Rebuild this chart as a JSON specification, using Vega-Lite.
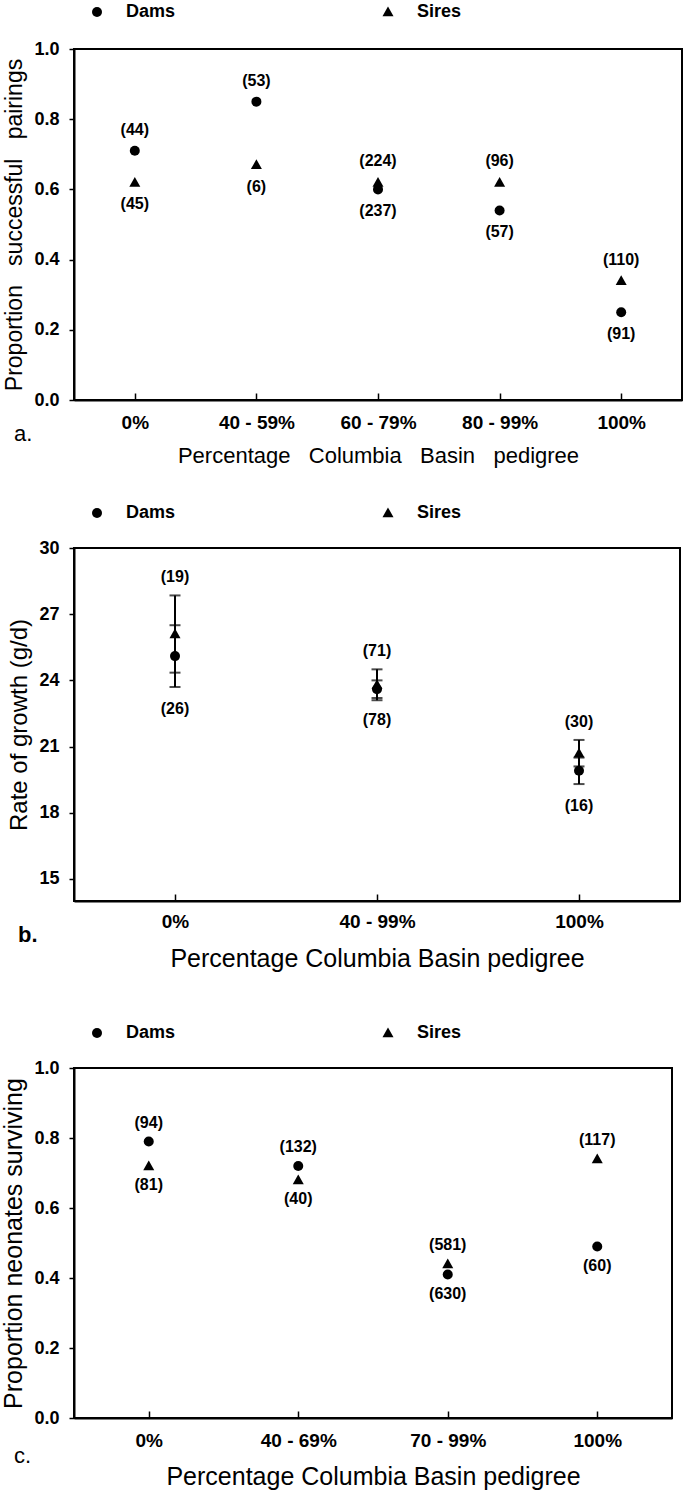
{
  "$schema": "https://vega.github.io/schema/vega-lite/v6.json",
  "padding": {"left": 0, "top": 2, "right": 0, "bottom": 0},
  "background": "white",
  "datasets": {
    "a": [
      {"cat": "0%", "sex": "Dams", "p": 0.71, "label": "(44)", "side": "above"},
      {"cat": "0%", "sex": "Sires", "p": 0.62, "label": "(45)", "side": "below"},
      {"cat": "40 - 59%", "sex": "Dams", "p": 0.85, "label": "(53)", "side": "above"},
      {"cat": "40 - 59%", "sex": "Sires", "p": 0.67, "label": "(6)", "side": "below"},
      {"cat": "60 - 79%", "sex": "Dams", "p": 0.60, "label": "(237)", "side": "below"},
      {"cat": "60 - 79%", "sex": "Sires", "p": 0.62, "label": "(224)", "side": "above"},
      {"cat": "80 - 99%", "sex": "Dams", "p": 0.54, "label": "(57)", "side": "below"},
      {"cat": "80 - 99%", "sex": "Sires", "p": 0.62, "label": "(96)", "side": "above"},
      {"cat": "100%", "sex": "Dams", "p": 0.25, "label": "(91)", "side": "below"},
      {"cat": "100%", "sex": "Sires", "p": 0.34, "label": "(110)", "side": "above"}
    ],
    "b": [
      {"cat": "0%", "sex": "Sires", "rate": 26.1, "lo": 24.35, "hi": 27.85, "label": "(19)", "side": "above"},
      {"cat": "0%", "sex": "Dams", "rate": 25.1, "lo": 23.7, "hi": 26.5, "label": "(26)", "side": "below"},
      {"cat": "40 - 99%", "sex": "Sires", "rate": 23.8, "lo": 23.1, "hi": 24.5, "label": "(71)", "side": "above"},
      {"cat": "40 - 99%", "sex": "Dams", "rate": 23.6, "lo": 23.2, "hi": 24.0, "label": "(78)", "side": "below"},
      {"cat": "100%", "sex": "Sires", "rate": 20.7, "lo": 20.1, "hi": 21.3, "label": "(30)", "side": "above"},
      {"cat": "100%", "sex": "Dams", "rate": 19.9, "lo": 19.3, "hi": 20.5, "label": "(16)", "side": "below"}
    ],
    "c": [
      {"cat": "0%", "sex": "Dams", "p": 0.79, "label": "(94)", "side": "above"},
      {"cat": "0%", "sex": "Sires", "p": 0.72, "label": "(81)", "side": "below"},
      {"cat": "40 - 69%", "sex": "Dams", "p": 0.72, "label": "(132)", "side": "above"},
      {"cat": "40 - 69%", "sex": "Sires", "p": 0.68, "label": "(40)", "side": "below"},
      {"cat": "70 - 99%", "sex": "Dams", "p": 0.41, "label": "(630)", "side": "below"},
      {"cat": "70 - 99%", "sex": "Sires", "p": 0.44, "label": "(581)", "side": "above"},
      {"cat": "100%", "sex": "Dams", "p": 0.49, "label": "(60)", "side": "below"},
      {"cat": "100%", "sex": "Sires", "p": 0.74, "label": "(117)", "side": "above"}
    ]
  },
  "resolve": {"scale": {"shape": "independent", "x": "independent", "y": "independent"}, "legend": {"shape": "independent"}},
  "spacing": 51,
  "vconcat": [
    {
      "resolve": {"scale": {"shape": "independent", "x": "independent", "y": "independent"}, "legend": {"shape": "independent"}},
      "spacing": 36,
      "vconcat": [
        {
          "width": 608,
          "height": 351,
          "data": {"name": "a"},
          "title": {"text": "a.", "orient": "bottom", "anchor": "start", "frame": "bounds", "offset": -42, "dx": 10},
          "encoding": {
            "x": {"field": "cat", "type": "nominal", "sort": null,
                  "scale": {"type": "point", "padding": 0.5},
                  "axis": {"title": "Percentage \u00a0\u00a0Columbia \u00a0\u00a0Basin \u00a0\u00a0pedigree", "titleFontSize": 22, "labelFontSize": 19, "labelPadding": 20, "titlePadding": 13}},
            "y": {"field": "p", "type": "quantitative",
                  "scale": {"domain": [0, 1]},
                  "axis": {"title": "Proportion \u00a0\u00a0successful \u00a0\u00a0pairings", "values": [0, 0.2, 0.4, 0.6, 0.8, 1.0], "format": ".1f", "titleFontSize": 23, "labelFontSize": 18, "labelPadding": 10, "titlePadding": 7}}
          },
          "layer": [
            {"mark": {"type": "point", "filled": true, "color": "#000", "opacity": 1, "size": 100},
             "encoding": {"shape": {"field": "sex", "type": "nominal",
                "scale": {"domain": ["Dams", "Sires"], "range": ["circle", "M0,-1.1L1.1,0.85L-1.1,0.85Z"]},
                "legend": {"title": null, "orient": "none", "direction": "horizontal", "legendX": 14, "legendY": -46, "columnPadding": 203}}}},
            {"transform": [{"filter": "datum.side === 'above'"}],
             "mark": {"type": "text", "dy": -21, "fontSize": 16, "fontWeight": "bold", "font": "Liberation Sans", "color": "#000"},
             "encoding": {"text": {"field": "label"}}},
            {"transform": [{"filter": "datum.side === 'below'"}],
             "mark": {"type": "text", "dy": 22, "fontSize": 16, "fontWeight": "bold", "font": "Liberation Sans", "color": "#000"},
             "encoding": {"text": {"field": "label"}}}
          ]
        },
        {
          "width": 606,
          "height": 353,
          "data": {"name": "b"},
          "title": {"text": "b.", "orient": "bottom", "anchor": "start", "frame": "bounds", "offset": -46, "dx": 10, "fontWeight": "bold"},
          "encoding": {
            "x": {"field": "cat", "type": "nominal", "sort": null,
                  "scale": {"type": "point", "padding": 0.5},
                  "axis": {"title": "Percentage Columbia Basin pedigree", "titleFontSize": 25, "labelFontSize": 19, "labelPadding": 18, "titlePadding": 15}}
          },
          "layer": [
            {"mark": {"type": "rule", "color": "#000", "strokeWidth": 2},
             "encoding": {"y": {"field": "lo", "type": "quantitative", "scale": {"domain": [15, 30]},
                  "axis": {"title": "Rate of growth (g/d)", "values": [15, 18, 21, 24, 27, 30], "format": "d", "titleFontSize": 24, "labelFontSize": 18, "labelPadding": 10, "titlePadding": 7}},
               "y2": {"field": "hi"}}},
            {"mark": {"type": "tick", "color": "#000", "size": 11, "thickness": 2, "orient": "horizontal"},
             "encoding": {"y": {"field": "lo", "type": "quantitative"}}},
            {"mark": {"type": "tick", "color": "#000", "size": 11, "thickness": 2, "orient": "horizontal"},
             "encoding": {"y": {"field": "hi", "type": "quantitative"}}},
            {"mark": {"type": "point", "filled": true, "color": "#000", "opacity": 1, "size": 100},
             "encoding": {"y": {"field": "rate", "type": "quantitative"},
               "shape": {"field": "sex", "type": "nominal",
                "scale": {"domain": ["Dams", "Sires"], "range": ["circle", "M0,-1.1L1.1,0.85L-1.1,0.85Z"]},
                "legend": {"title": null, "orient": "none", "direction": "horizontal", "legendX": 14, "legendY": -44, "columnPadding": 203}}}},
            {"transform": [{"filter": "datum.side === 'above'"}],
             "mark": {"type": "text", "dy": -18, "fontSize": 16, "fontWeight": "bold", "font": "Liberation Sans", "color": "#000"},
             "encoding": {"y": {"field": "hi", "type": "quantitative"}, "text": {"field": "label"}}},
            {"transform": [{"filter": "datum.side === 'below'"}],
             "mark": {"type": "text", "dy": 22, "fontSize": 16, "fontWeight": "bold", "font": "Liberation Sans", "color": "#000"},
             "encoding": {"y": {"field": "lo", "type": "quantitative"}, "text": {"field": "label"}}}
          ]
        }
      ]
    },
    {
      "width": 598,
      "height": 350,
      "data": {"name": "c"},
      "title": {"text": "c.", "orient": "bottom", "anchor": "start", "frame": "bounds", "offset": -43, "dx": 12},
      "encoding": {
        "x": {"field": "cat", "type": "nominal", "sort": null,
              "scale": {"type": "point", "padding": 0.5},
              "axis": {"title": "Percentage Columbia Basin pedigree", "titleFontSize": 25, "labelFontSize": 19, "labelPadding": 20, "titlePadding": 14}},
        "y": {"field": "p", "type": "quantitative",
              "scale": {"domain": [0, 1]},
              "axis": {"title": "Proportion neonates surviving", "values": [0, 0.2, 0.4, 0.6, 0.8, 1.0], "format": ".1f", "titleFontSize": 25, "labelFontSize": 18, "labelPadding": 10, "titlePadding": 7}}
      },
      "layer": [
        {"mark": {"type": "point", "filled": true, "color": "#000", "opacity": 1, "size": 100},
         "encoding": {"shape": {"field": "sex", "type": "nominal",
            "scale": {"domain": ["Dams", "Sires"], "range": ["circle", "M0,-1.1L1.1,0.85L-1.1,0.85Z"]},
            "legend": {"title": null, "orient": "none", "direction": "horizontal", "legendX": 14, "legendY": -44, "columnPadding": 203}}}},
        {"transform": [{"filter": "datum.side === 'above'"}],
         "mark": {"type": "text", "dy": -19, "fontSize": 16, "fontWeight": "bold", "font": "Liberation Sans", "color": "#000"},
         "encoding": {"text": {"field": "label"}}},
        {"transform": [{"filter": "datum.side === 'below'"}],
         "mark": {"type": "text", "dy": 19, "fontSize": 16, "fontWeight": "bold", "font": "Liberation Sans", "color": "#000"},
         "encoding": {"text": {"field": "label"}}}
      ]
    }
  ],
  "config": {
    "font": "Liberation Sans",
    "view": {"stroke": "#000", "strokeWidth": 2},
    "axis": {"domainColor": "#000", "domainWidth": 2, "tickColor": "#000", "tickWidth": 1.5, "tickSize": 5, "grid": false,
             "labelColor": "#000", "titleColor": "#000", "labelFont": "Liberation Sans", "labelFontWeight": "bold",
             "titleFont": "Liberation Sans", "titleFontWeight": "normal"},
    "axisX": {"tickSize": -7, "labelAngle": 0},
    "legend": {"labelFont": "Liberation Sans", "labelFontSize": 18, "labelFontWeight": "bold", "labelColor": "#000",
               "symbolFillColor": "#000", "symbolStrokeColor": "#000", "symbolSize": 100, "labelOffset": 20},
    "title": {"font": "Liberation Sans", "fontSize": 22, "fontWeight": "normal", "color": "#000"}
  }
}
